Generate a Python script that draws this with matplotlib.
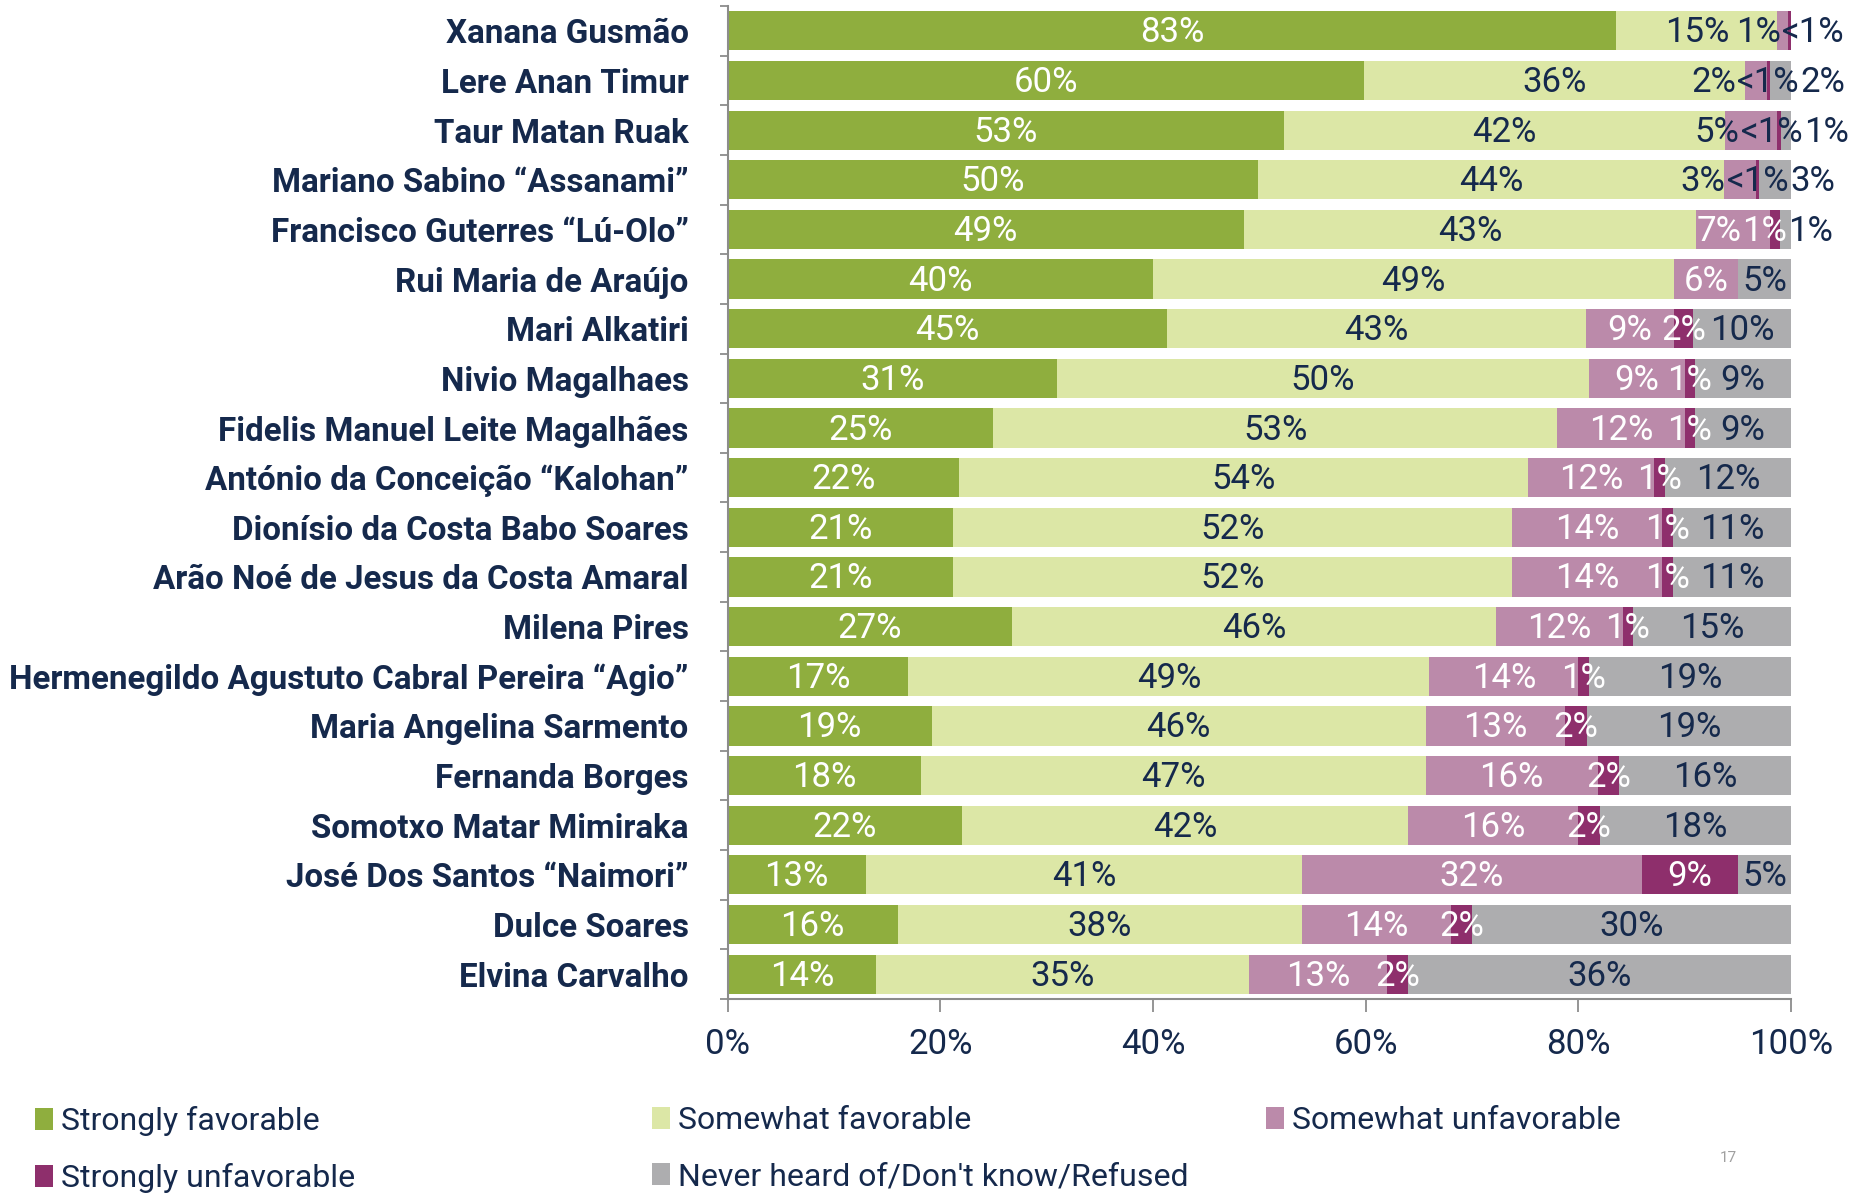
import matplotlib
matplotlib.use("Agg")
import matplotlib.pyplot as plt
from matplotlib import font_manager as fm
from matplotlib.patches import Patch
import numpy as np

# ---------------- data ----------------
candidates = [
    "Xanana Gusmão",
    "Lere Anan Timur",
    "Taur Matan Ruak",
    "Mariano Sabino “Assanami”",
    "Francisco Guterres “Lú-Olo”",
    "Rui Maria de Araújo",
    "Mari Alkatiri",
    "Nivio Magalhaes",
    "Fidelis Manuel Leite Magalhães",
    "António da Conceição “Kalohan”",
    "Dionísio da Costa Babo Soares",
    "Arão Noé de Jesus da Costa Amaral",
    "Milena Pires",
    "Hermenegildo Agustuto Cabral Pereira “Agio”",
    "Maria Angelina Sarmento",
    "Fernanda Borges",
    "Somotxo Matar Mimiraka",
    "José Dos Santos “Naimori”",
    "Dulce Soares",
    "Elvina Carvalho",
]
strongly_favorable = [83, 60, 53, 50, 49, 40, 45, 31, 25, 22, 21, 21, 27, 17, 19, 18, 22, 13, 16, 14]
somewhat_favorable = [15, 36, 42, 44, 43, 49, 43, 50, 53, 54, 52, 52, 46, 49, 46, 47, 42, 41, 38, 35]
somewhat_unfavorable = [1, 2, 5, 3, 7, 6, 9, 9, 12, 12, 14, 14, 12, 14, 13, 16, 16, 32, 14, 13]
strongly_unfavorable = [0.3, 0.3, 0.3, 0.3, 1, 0, 2, 1, 1, 1, 1, 1, 1, 1, 2, 2, 2, 9, 2, 2]
never_heard = [0, 2, 1, 3, 1, 5, 10, 9, 9, 12, 11, 11, 15, 19, 19, 16, 18, 5, 30, 36]
series_names = ["Strongly favorable", "Somewhat favorable", "Somewhat unfavorable",
                "Strongly unfavorable", "Never heard of/Don't know/Refused"]
x_ticks = [0, 20, 40, 60, 80, 100]
x_tick_labels = ["0%", "20%", "40%", "60%", "80%", "100%"]

# ---------------- style ----------------
colors = ["#8FAE3E", "#DCE7A6", "#BB8AAA", "#8E2F6C", "#ADADAF"]
dark_bg = [True, False, True, True, False]
NAVY = "#15294C"
AXIS_GRAY = "#8C8C8C"


def pick(cands, weight="normal"):
    for c in cands:
        try:
            fm.findfont(fm.FontProperties(family=c, weight=weight), fallback_to_default=False)
            return c
        except Exception:
            pass
    return "DejaVu Sans"


VAL_FONT = pick(["Roboto", "Lato", "Open Sans"])
CAT_FONT = pick(["Roboto", "Lato", "Open Sans"], "bold")

W, H, DPI = 1855, 1193, 100
fig = plt.figure(figsize=(W / DPI, H / DPI), dpi=DPI)
x0, x1, ytop, ybot = 727.6, 1791.0, 6.0, 999.0
ax = fig.add_axes([x0 / W, 1 - ybot / H, (x1 - x0) / W, (ybot - ytop) / H])

series = [strongly_favorable, somewhat_favorable, somewhat_unfavorable, strongly_unfavorable, never_heard]
data = np.array(series, dtype=float).T
shares = data / data.sum(axis=1, keepdims=True) * 100
n = len(candidates)
ypos = np.arange(n)
lefts = np.zeros_like(shares)
left = np.zeros(n)
for j in range(5):
    lefts[:, j] = left
    ax.barh(ypos, shares[:, j], left=left, height=0.79, color=colors[j],
            edgecolor="none", label=series_names[j])
    left = left + shares[:, j]

ax.set_xlim(0, 100)
ax.set_ylim(n - 0.5, -0.5)

VAL_SIZE = 25
# ---------------- value labels ----------------
fig.canvas.draw()
renderer = fig.canvas.get_renderer()
px_per_unit = ax.get_window_extent(renderer).width / 100.0


def spread(centers, widths, gap):
    pos = list(centers)
    for _ in range(300):
        moved = False
        for k in range(len(pos) - 1):
            need = (widths[k] + widths[k + 1]) / 2 + gap
            d = pos[k + 1] - pos[k]
            if d < need - 1e-6:
                s = (need - d) / 2
                pos[k] -= s
                pos[k + 1] += s
                moved = True
        if not moved:
            break
    return pos


for i in range(n):
    items = []
    for j in range(5):
        v = data[i, j]
        if v <= 0:
            continue
        txt = "<1%" if v < 1 else f"{int(round(v))}%"
        c = lefts[i, j] + shares[i, j] / 2
        t = ax.text(c, i + 0.04, txt, ha="center", va="center", fontsize=VAL_SIZE,
                    family=VAL_FONT, color=NAVY)
        w = t.get_window_extent(renderer).width / px_per_unit
        items.append([t, c, w, j, v])
    pos = spread([it[1] for it in items], [it[2] for it in items], 0.1)
    for it, p in zip(items, pos):
        t, c, w, j, v = it
        t.set_x(p)
        col = NAVY
        if v >= 1 and p < 100:
            for jj in range(5):
                if lefts[i, jj] <= p < lefts[i, jj] + shares[i, jj] and shares[i, jj] > 0:
                    col = "white" if dark_bg[jj] else NAVY
                    break
        t.set_color(col)

# ---------------- axes ----------------
for s in ["top", "right"]:
    ax.spines[s].set_visible(False)
for s in ["left", "bottom"]:
    ax.spines[s].set_color(AXIS_GRAY)
    ax.spines[s].set_linewidth(1.5)

# fit category label size so that the longest label spans ~679 px
probe = fig.text(0, 0, max(candidates, key=len), fontsize=20, fontweight="bold", family=CAT_FONT)
cat_size = min(24.0, 20 * 679.0 / probe.get_window_extent(renderer).width)
probe.remove()

ax.set_yticks(ypos)
ax.set_yticklabels(candidates, fontsize=cat_size, fontweight="bold", family=CAT_FONT, color=NAVY)
ax.set_yticks(np.arange(-0.5, n, 1.0), minor=True)
ax.tick_params(axis="y", which="major", length=0, pad=28)
ax.tick_params(axis="y", which="minor", length=6, width=1.3, color=AXIS_GRAY)

ax.set_xticks(x_ticks)
ax.set_xticklabels(x_tick_labels, fontsize=VAL_SIZE, family=VAL_FONT, color=NAVY)
ax.tick_params(axis="x", which="major", length=9, width=1.3, color=AXIS_GRAY, pad=12)

# ---------------- legend ----------------
handles = [Patch(facecolor=colors[j], edgecolor="none", label=series_names[j]) for j in range(5)]
cols = [[0, 3], [1, 4], [2]]
col_x = [35, 652, 1266]
for hx, idx in zip(col_x, cols):
    fig.legend([handles[k] for k in idx], [series_names[k] for k in idx],
               loc="upper left", bbox_to_anchor=(hx / W, 1 - 1106 / H),
               frameon=False, prop={"family": VAL_FONT, "size": 23},
               labelcolor=NAVY, handlelength=0.55, handleheight=0.7,
               handletextpad=0.25, labelspacing=0.85, borderpad=0, borderaxespad=0)

fig.text(1728 / W, 1 - 1158 / H, "17", fontsize=11, color="#A0A0A0",
         family=VAL_FONT, ha="center", va="center")

fig.savefig("out.png", dpi=DPI)
